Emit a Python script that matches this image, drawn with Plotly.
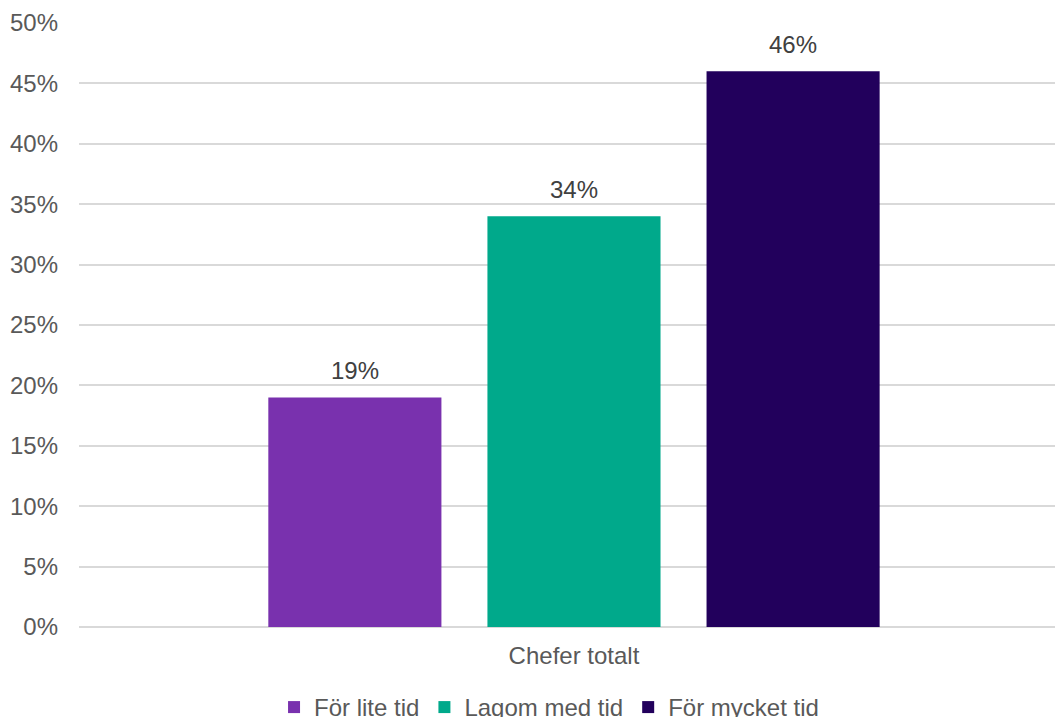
import plotly.graph_objects as go

categories = ["Chefer totalt"]
series_names = ["För lite tid", "Lagom med tid", "För mycket tid"]
series_values = [19, 34, 46]
series_colors = ["#7931AE", "#00A98B", "#22005C"]
y_ticks = list(range(0, 51, 5))
y_tick_labels = [f"{v}%" for v in y_ticks]

FONT = "Liberation Sans, Arial, sans-serif"
BARGAP = 0.336
N = len(series_names)
slot = (1 - BARGAP) / N  # width of one bar slot in category units

fig = go.Figure()
for name, val, col in zip(series_names, series_values, series_colors):
    fig.add_trace(go.Bar(
        name=name,
        x=categories,
        y=[val],
        marker=dict(color=col, line=dict(width=0)),
    ))

# value labels above each bar, lifted a little off the bar top
for i, val in enumerate(series_values):
    fig.add_annotation(
        x=(i - (N - 1) / 2) * slot,
        y=val,
        xref="x",
        yref="y",
        text=f"{val}%",
        showarrow=False,
        yanchor="bottom",
        yshift=11,
        font=dict(family=FONT, size=24, color="#404040"),
    )

fig.update_layout(
    width=1055,
    height=717,
    margin=dict(l=79, r=0, t=23, b=90, autoexpand=False),
    paper_bgcolor="white",
    plot_bgcolor="white",
    barmode="group",
    bargap=BARGAP,
    bargroupgap=0.21,
    font=dict(family=FONT, size=24, color="#595959"),
    showlegend=True,
    legend=dict(
        orientation="h",
        x=0.4816,
        xanchor="center",
        y=-0.096,
        yanchor="top",
        font=dict(family=FONT, size=24, color="#595959"),
        itemwidth=30,
        tracegroupgap=0,
    ),
    xaxis=dict(
        type="category",
        range=[-0.5, 0.4859],
        showgrid=False,
        showline=False,
        zeroline=False,
        ticks="",
        tickfont=dict(family=FONT, size=24, color="#595959"),
        ticklabelstandoff=12,
    ),
    yaxis=dict(
        range=[0, 50],
        tickvals=y_ticks,
        ticktext=y_tick_labels,
        showgrid=True,
        gridcolor="#D9D9D9",
        gridwidth=2,
        zeroline=True,
        zerolinecolor="#D9D9D9",
        zerolinewidth=2,
        showline=False,
        ticks="",
        tickfont=dict(family=FONT, size=24, color="#595959"),
        ticklabelstandoff=20,
    ),
)

fig.write_html("out.html")
